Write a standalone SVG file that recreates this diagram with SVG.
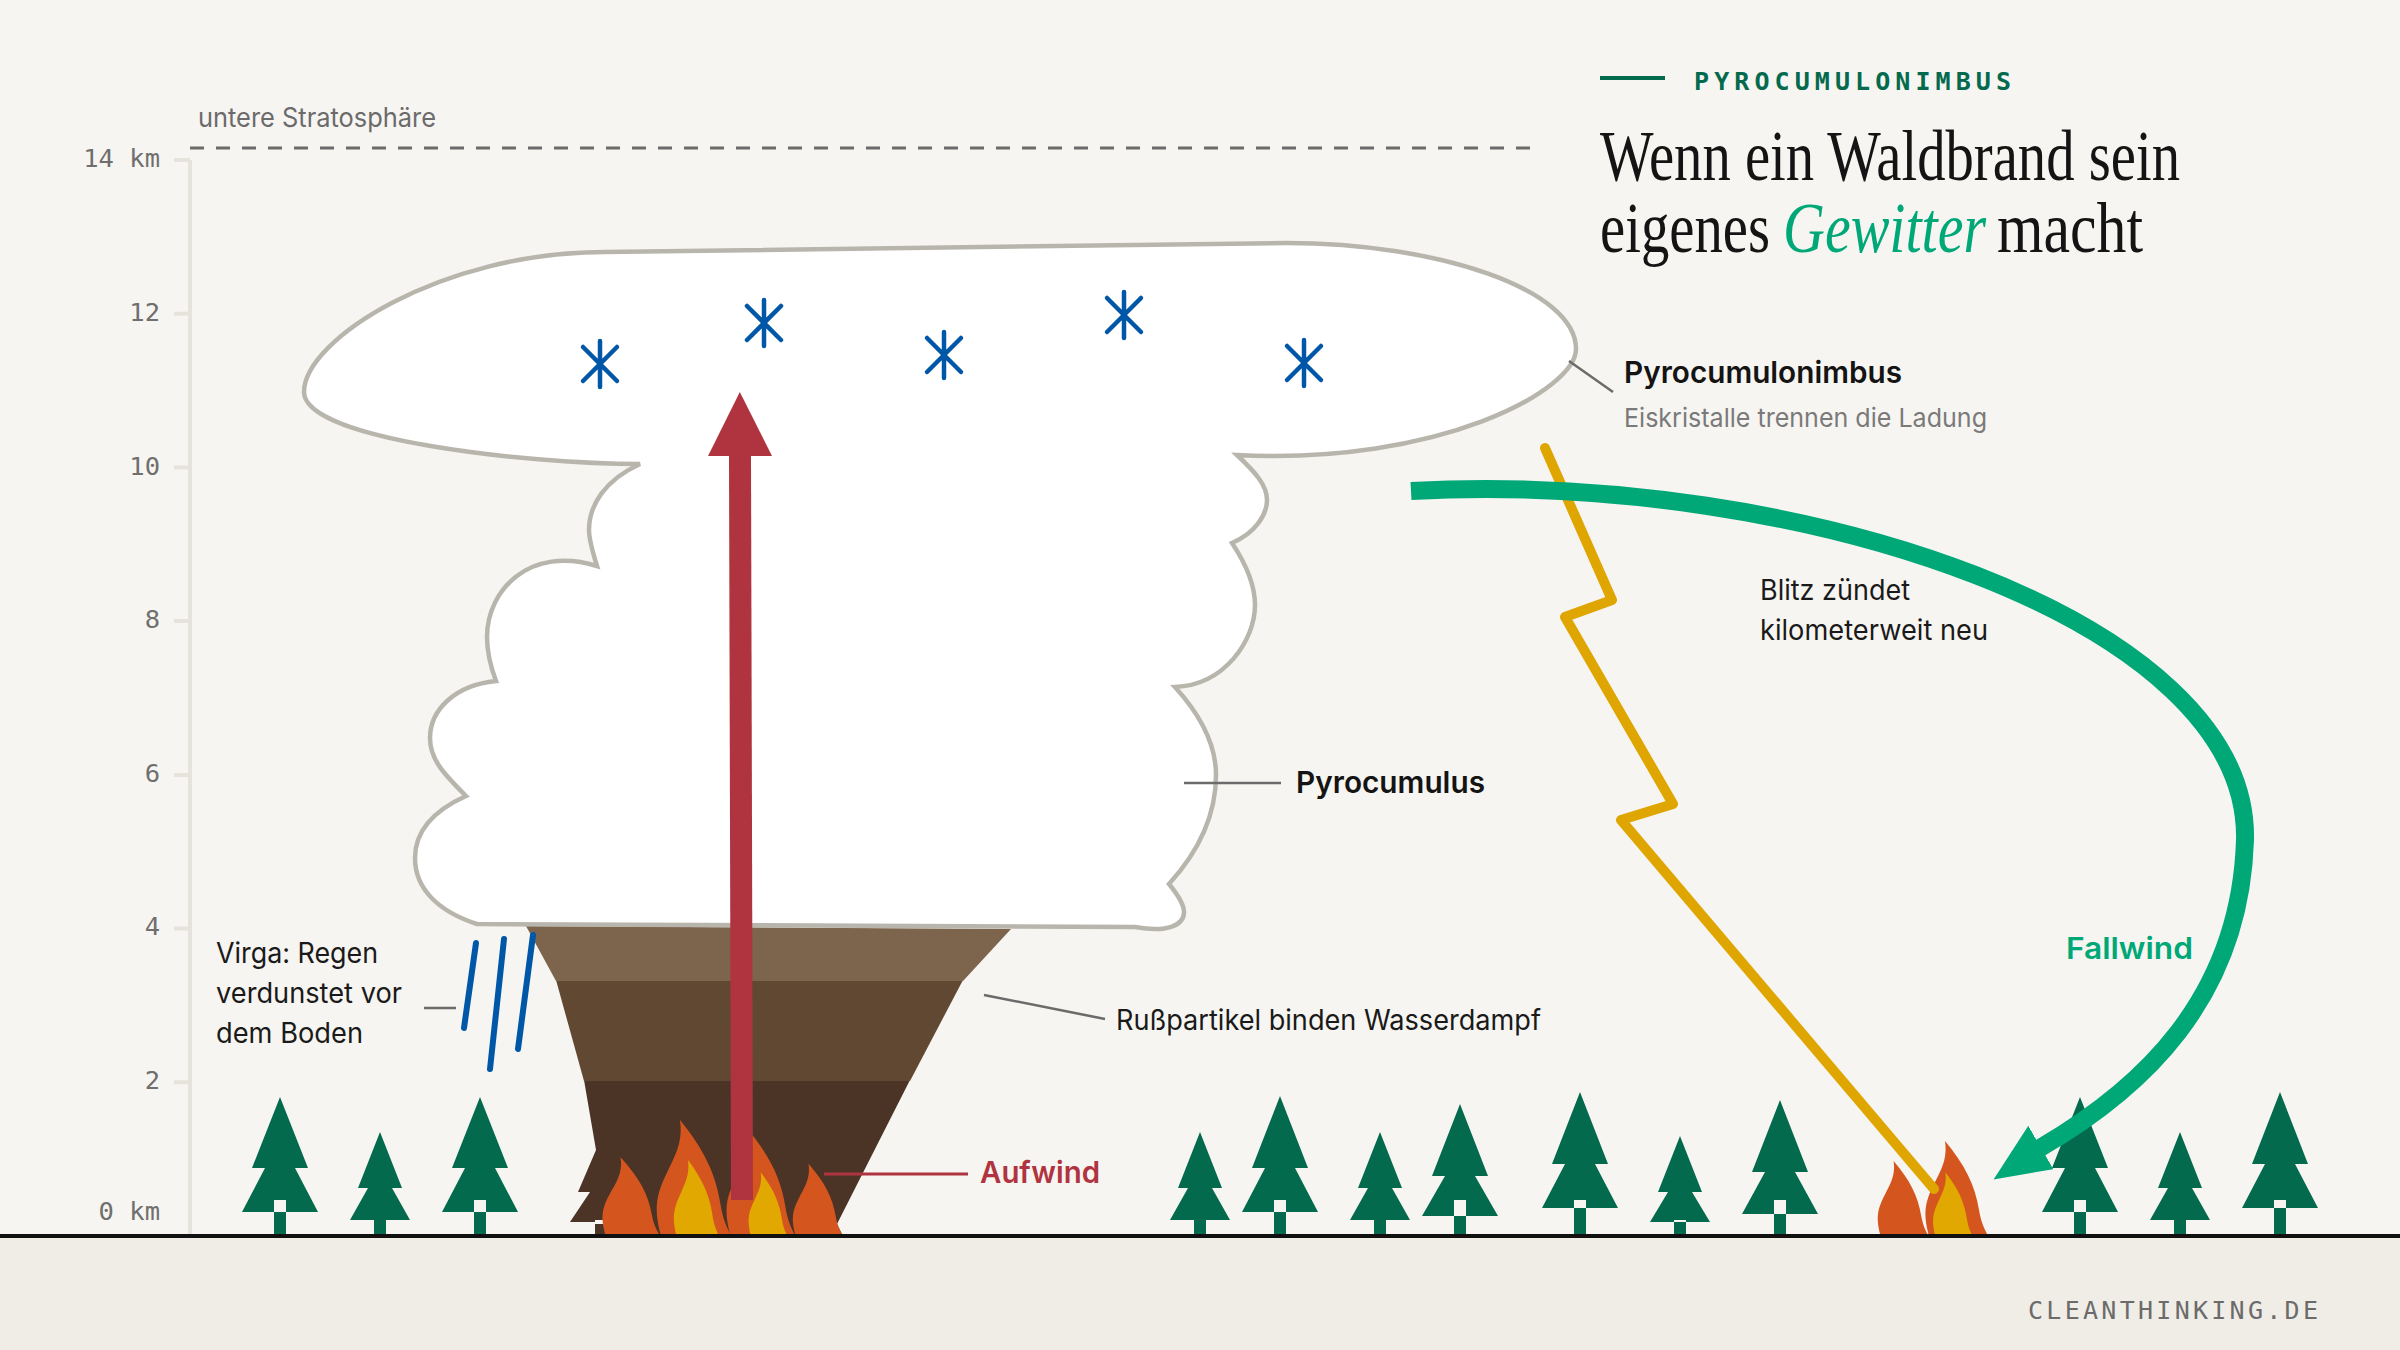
<svg xmlns="http://www.w3.org/2000/svg" width="2400" height="1350" viewBox="0 0 2400 1350">
<style>
.sans{font-family:"Inter","Liberation Sans",sans-serif}
.mono{font-family:"DejaVu Sans Mono","Liberation Mono",monospace}
.display{font-family:"Liberation Serif",serif;font-size:72px;fill:#141414}
.tick{font-size:25.5px;fill:#6f6f6f;text-anchor:end}
.note{font-size:28px;fill:#1a1a1a}
.strong{font-size:30px;font-weight:600}
.axis{stroke:#e5e3dc;stroke-width:4;fill:none}
.leader{stroke:#6b6b6b;stroke-width:2.5;fill:none}
.tree{fill:#046a4e}
.gap{fill:#f7f5f1}
.flame{fill:#d4561e}
.flame-core{fill:#e0a800}
.crystal{stroke:#0057a8;stroke-width:4.5;stroke-linecap:round;fill:none}
.rain{stroke:#0057a8;stroke-width:6;stroke-linecap:round;fill:none}
</style>
<defs>
<path id="flame-shape" d="M-16 0C-23-26-19-36-9-56C-1-71 2-81 0-95C20-71 30-51 34-26C36-14 39-8 43 0Z"/>
<path id="crystal-shape" d="M0-23V23M-17-17L17 17M-17 17L17-17"/>
<marker id="head-up" markerUnits="userSpaceOnUse" markerWidth="65" markerHeight="66" refX="0" refY="33" orient="auto"><path d="M0 1L64 33L0 65Z" fill="#b0343f"/></marker>
<marker id="head-fall" markerUnits="userSpaceOnUse" markerWidth="58" markerHeight="52" refX="1" refY="25" orient="auto"><path d="M0 0L57 21L0 50Z" fill="#00a878"/></marker>
</defs>

<rect width="2400" height="1350" fill="#f7f5f1"/>
<rect y="1236" width="2400" height="114" fill="#f0ede6"/>

<g id="axis">
<path class="axis" d="M190 160V1236M174 160H190M174 313.7H190M174 467.4H190M174 621.1H190M174 774.9H190M174 928.6H190M174 1082.3H190"/>
<g class="mono">
<text class="tick" x="160" y="167">14 km</text>
<text class="tick" x="160" y="321">12</text>
<text class="tick" x="160" y="475">10</text>
<text class="tick" x="160" y="628">8</text>
<text class="tick" x="160" y="782">6</text>
<text class="tick" x="160" y="935">4</text>
<text class="tick" x="160" y="1089">2</text>
<text class="tick" x="160" y="1220">0 km</text>
</g>
</g>
<g id="stratosphere">
<text class="sans" x="198" y="127" font-size="27" fill="#6b6b6b" textLength="238" lengthAdjust="spacingAndGlyphs">untere Stratosphäre</text>
<path d="M190 148H1532" stroke="#6b6b6b" stroke-width="3" stroke-dasharray="14 12" fill="none"/>
</g>

<g id="smoke">
<polygon fill="#4b3426" points="584,1080 910,1080 837,1224 843,1236 606,1236 606,1222 570,1222 590,1192 578,1192 596,1150"/>
<rect x="595" y="1224" width="11" height="12" fill="#4b3426"/>
<rect x="595" y="1220" width="11" height="4" class="gap"/>
<polygon fill="#614833" points="556,980 963,980 910,1081 584,1081"/>
<polygon fill="#7d644d" points="526,926 1011,929 963,981 556,981"/>
</g>

<g id="forest">
<g id="tree-1"><polygon class="tree" points="280,1097 308,1168 295,1168 318,1212 242,1212 265,1168 252,1168"/><rect class="gap" x="274" y="1200" width="12" height="12"/><rect class="tree" x="274" y="1212" width="12" height="24"/></g>
<g id="tree-2"><polygon class="tree" points="380,1132 402,1188 392,1188 410,1220 350,1220 368,1188 358,1188"/><rect class="tree" x="374" y="1220" width="12" height="16"/></g>
<g id="tree-3"><polygon class="tree" points="480,1097 508,1168 495,1168 518,1212 442,1212 465,1168 452,1168"/><rect class="gap" x="474" y="1200" width="12" height="12"/><rect class="tree" x="474" y="1212" width="12" height="24"/></g>
<g id="tree-4"><polygon class="tree" points="1200,1132 1222,1188 1212,1188 1230,1220 1170,1220 1188,1188 1178,1188"/><rect class="tree" x="1194" y="1220" width="12" height="16"/></g>
<g id="tree-5"><polygon class="tree" points="1280,1096 1308,1168 1295,1168 1318,1212 1242,1212 1265,1168 1252,1168"/><rect class="gap" x="1274" y="1200" width="12" height="12"/><rect class="tree" x="1274" y="1212" width="12" height="24"/></g>
<g id="tree-6"><polygon class="tree" points="1380,1132 1402,1188 1392,1188 1410,1220 1350,1220 1368,1188 1358,1188"/><rect class="tree" x="1374" y="1220" width="12" height="16"/></g>
<g id="tree-7"><polygon class="tree" points="1460,1104 1488,1176 1475,1176 1498,1216 1422,1216 1445,1176 1432,1176"/><rect class="gap" x="1454" y="1200" width="12" height="16"/><rect class="tree" x="1454" y="1216" width="12" height="20"/></g>
<g id="tree-8"><polygon class="tree" points="1580,1092 1608,1164 1595,1164 1618,1208 1542,1208 1565,1164 1552,1164"/><rect class="gap" x="1574" y="1200" width="12" height="8"/><rect class="tree" x="1574" y="1208" width="12" height="28"/></g>
<g id="tree-9"><polygon class="tree" points="1680,1136 1702,1192 1692,1192 1710,1222 1650,1222 1668,1192 1658,1192"/><rect class="gap" x="1674" y="1220" width="12" height="2"/><rect class="tree" x="1674" y="1222" width="12" height="14"/></g>
<g id="tree-10"><polygon class="tree" points="1780,1100 1808,1172 1795,1172 1818,1214 1742,1214 1765,1172 1752,1172"/><rect class="gap" x="1774" y="1200" width="12" height="14"/><rect class="tree" x="1774" y="1214" width="12" height="22"/></g>
<g id="tree-11"><polygon class="tree" points="2080,1097 2108,1168 2095,1168 2118,1212 2042,1212 2065,1168 2052,1168"/><rect class="gap" x="2074" y="1200" width="12" height="12"/><rect class="tree" x="2074" y="1212" width="12" height="24"/></g>
<g id="tree-12"><polygon class="tree" points="2180,1132 2202,1188 2192,1188 2210,1220 2150,1220 2168,1188 2158,1188"/><rect class="tree" x="2174" y="1220" width="12" height="16"/></g>
<g id="tree-13"><polygon class="tree" points="2280,1092 2308,1164 2295,1164 2318,1208 2242,1208 2265,1164 2252,1164"/><rect class="gap" x="2274" y="1200" width="12" height="8"/><rect class="tree" x="2274" y="1208" width="12" height="28"/></g>
</g>

<g id="cloud">
<path fill="#fff" stroke="#b8b6ac" stroke-width="4.5" stroke-linejoin="miter" d="M640 464C530 464 304 440 304 392C304 340 440 252 605 252L1286 243C1440 243 1576 290 1576 349C1576 390 1440 465 1237 455C1255 472 1267 485 1267 500C1267 515 1255 533 1232 543C1250 570 1255 590 1255 605C1255 640 1225 685 1175 687C1205 720 1216 750 1216 775C1216 815 1200 850 1169 884C1178 895 1184 905 1184 912C1184 925 1168 933 1135 927L477 924C440 912 415 890 415 858C415 830 435 810 466 796C445 775 430 760 430 738C430 710 455 685 496 681C490 665 487 650 487 637C487 590 530 545 597 566C592 550 589 540 589 530C589 505 605 480 640 464Z"/>
</g>

<g id="crystals">
<use href="#crystal-shape" class="crystal" x="600" y="364"/>
<use href="#crystal-shape" class="crystal" x="764" y="323"/>
<use href="#crystal-shape" class="crystal" x="944" y="355"/>
<use href="#crystal-shape" class="crystal" x="1124" y="315"/>
<use href="#crystal-shape" class="crystal" x="1304" y="363"/>
</g>

<g id="virga">
<path class="rain" d="M476 943L464 1028M504 939L490 1069M533 935L518 1049"/>
</g>

<g id="fire-base">
<use href="#flame-shape" class="flame" transform="translate(620.5 1236) scale(.92 .83)"/>
<use href="#flame-shape" class="flame" transform="translate(680 1236) scale(1.19 1.22)"/>
<use href="#flame-shape" class="flame-core" transform="translate(688 1236) scale(.72 .8)"/>
<use href="#flame-shape" class="flame" transform="translate(748 1236) scale(1.1 1.12)"/>
<use href="#flame-shape" class="flame-core" transform="translate(760.7 1236) scale(.62 .67)"/>
<use href="#flame-shape" class="flame" transform="translate(808.5 1236) scale(.8 .76)"/>
</g>
<g id="fire-strike">
<use href="#flame-shape" class="flame" transform="translate(1893.6 1236) scale(.81 .79)"/>
<use href="#flame-shape" class="flame" transform="translate(1945 1236)"/>
<use href="#flame-shape" class="flame-core" transform="translate(1945.4 1236) scale(.63 .67)"/>
</g>

<path id="ground-line" d="M0 1236H2400" stroke="#111" stroke-width="4"/>

<g id="connectors">
<path d="M742 1200L740 456" stroke="#b0343f" stroke-width="22" fill="none" marker-end="url(#head-up)"/>
<path d="M1545 448L1612 600L1565 617L1673 804L1621 820L1934 1189" stroke="#dfa500" stroke-width="10" stroke-linecap="round" stroke-linejoin="round" fill="none"/>
<path d="M1411 491C1800 470 2250 620 2245 840C2240 1000 2140 1090 2040 1148" stroke="#00a878" stroke-width="18" fill="none" marker-end="url(#head-fall)"/>
<path class="leader" d="M1569 361L1613 392M1184 783H1281M424 1008H456M984 995L1105 1019"/>
<path d="M824 1174H968" stroke="#b0343f" stroke-width="3" fill="none"/>
</g>

<g id="labels" class="sans">
<text class="strong" x="1624" y="383" fill="#141414" textLength="278" lengthAdjust="spacingAndGlyphs">Pyrocumulonimbus</text>
<text x="1624" y="427" font-size="26" fill="#7a7a7a" textLength="363" lengthAdjust="spacingAndGlyphs">Eiskristalle trennen die Ladung</text>
<text class="strong" x="1296" y="793" fill="#141414" textLength="189" lengthAdjust="spacingAndGlyphs">Pyrocumulus</text>
<text class="note" x="216" y="963" textLength="162" lengthAdjust="spacingAndGlyphs">Virga: Regen</text>
<text class="note" x="216" y="1003" textLength="186" lengthAdjust="spacingAndGlyphs">verdunstet vor</text>
<text class="note" x="216" y="1043" textLength="147" lengthAdjust="spacingAndGlyphs">dem Boden</text>
<text class="note" x="1116" y="1030" textLength="425" lengthAdjust="spacingAndGlyphs">Rußpartikel binden Wasserdampf</text>
<text class="strong" x="980" y="1183" fill="#b0343f" textLength="120" lengthAdjust="spacingAndGlyphs">Aufwind</text>
<text class="strong" x="2066" y="959" fill="#00a878" textLength="127" lengthAdjust="spacingAndGlyphs">Fallwind</text>
<text class="note" x="1760" y="600" textLength="150" lengthAdjust="spacingAndGlyphs">Blitz zündet</text>
<text class="note" x="1760" y="640" textLength="228" lengthAdjust="spacingAndGlyphs">kilometerweit neu</text>
</g>

<g id="masthead">
<path d="M1600 78H1665" stroke="#046a4e" stroke-width="4"/>
<text class="mono" x="1694" y="90" font-size="25" font-weight="700" fill="#046a4e" textLength="317" lengthAdjust="spacing">PYROCUMULONIMBUS</text>
<text class="display" x="1600" y="180" textLength="580" lengthAdjust="spacingAndGlyphs">Wenn ein Waldbrand sein</text>
<text class="display" y="252"><tspan x="1600" textLength="170" lengthAdjust="spacingAndGlyphs">eigenes</tspan><tspan x="1783" font-style="italic" fill="#00a878" textLength="203" lengthAdjust="spacingAndGlyphs">Gewitter</tspan><tspan x="1997" textLength="146" lengthAdjust="spacingAndGlyphs">macht</tspan></text>
<text class="mono" x="2028" y="1319" font-size="25" fill="#6b6b6b" textLength="290" lengthAdjust="spacing">CLEANTHINKING.DE</text>
</g>
</svg>
